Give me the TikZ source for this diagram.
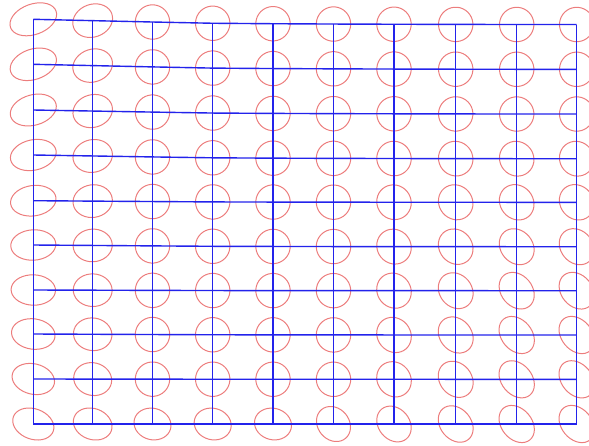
\documentclass[tikz,border=0pt]{standalone}
\definecolor{gridblue}{RGB}{35,35,235}
\definecolor{ellred}{RGB}{236,125,125}
\begin{document}
\begin{tikzpicture}[x=1pt,y=1pt,
  gridline/.style={draw=gridblue,line width=1.4pt,line join=round},
  ellipsestyle/.style={draw=ellred,line width=1pt}]
\useasboundingbox (0,0) rectangle (589,-445);
\clip (0,0) rectangle (589,-445);
% grid vertices and ellipses
\foreach \j in {0,...,9}{
  \foreach \i in {0,...,9}{
    \pgfmathsetmacro{\xx}{{33.3,92.7,152.5,212.7,273,333.5,394,455.7,516.7,576.7}[\i]}
    \pgfmathsetmacro{\yl}{{19.3,64.3,110,155,200.7,245,290,334,379,424}[\j]}
    \pgfmathsetmacro{\yr}{{24.5,69.3,114,158.7,202.3,246.7,290.7,335,379.3,424}[\j]}
    \pgfmathsetmacro{\ff}{{0,0.26,0.52,0.76,0.85,0.91,0.95,0.98,1,1}[\i]}
    \pgfmathsetmacro{\yy}{-(\yl+\ff*(\yr-\yl))}
    \coordinate (v-\i-\j) at (\xx,\yy);
    \pgfmathsetmacro{\uu}{\i/9}
    \pgfmathsetmacro{\vv}{\j/9}
    \pgfmathsetmacro{\effL}{max(0,1-\i/1.8)}
    \pgfmathsetmacro{\effB}{min(1,max(0,(\uu-0.55)/0.35))*min(1,max(0,(\vv-0.25)/0.5))}
    \pgfmathsetmacro{\effD}{(\j==9)*(1-\effL)*(1-\effB)}
    \pgfmathsetmacro{\ra}{17.2+\effL*(7-3*\vv)+3.5*\effB+1.5*\effD}
    \pgfmathsetmacro{\rb}{17.2-2*\effL-2*\effB-1.5*\effD}
    \pgfmathsetmacro{\ang}{\effL>0 ? 20-40*\vv*sqrt(\vv) : (\effB>0.01 ? -50 : -15)}
    \draw[ellipsestyle] plot[variable=\t, domain=0:350, samples=36, smooth cycle]
      ({\xx + \ra*cos(\t)*cos(\ang) - \rb*sin(\t)*sin(\ang)},
       {\yy + \ra*cos(\t)*sin(\ang) + \rb*sin(\t)*cos(\ang)});
  }
}
% grid lines
\foreach \j in {0,...,9}{
  \draw[gridline] (v-0-\j) \foreach \i in {1,...,9}{ -- (v-\i-\j) };
}
\foreach \i in {0,...,9}{
  \draw[gridline] (v-\i-0) \foreach \j in {1,...,9}{ -- (v-\i-\j) };
}
\end{tikzpicture}
\end{document}
